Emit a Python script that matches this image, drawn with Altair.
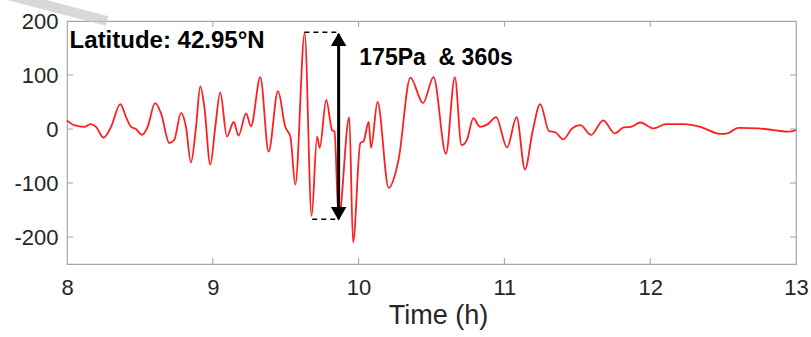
import altair as alt
import pandas as pd

# ---- data ----
time_h = [8.000, 8.050, 8.119, 8.160, 8.199, 8.251, 8.302, 8.366, 8.405, 8.439,
          8.473, 8.514, 8.553, 8.604, 8.645, 8.702, 8.736, 8.782, 8.816, 8.850,
          8.885, 8.914, 8.942, 8.983, 9.017, 9.051, 9.097, 9.143, 9.177, 9.228,
          9.262, 9.326, 9.383, 9.447, 9.497, 9.532, 9.566, 9.630, 9.678, 9.715,
          9.733, 9.778, 9.818, 9.835, 9.863, 9.936, 9.962, 10.012, 10.034, 10.069,
          10.085, 10.130, 10.206, 10.274, 10.355, 10.442, 10.514, 10.599, 10.660, 10.706,
          10.743, 10.787, 10.833, 10.886, 10.943, 11.018, 11.084, 11.141, 11.193, 11.246,
          11.306, 11.349, 11.404, 11.464, 11.521, 11.594, 11.678, 11.757, 11.818, 11.868,
          11.932, 12.023, 12.109, 12.234, 12.344, 12.481, 12.529, 12.604, 12.741, 12.846,
          12.947, 13.000]
pressure_pa = [16, 7, 4, 9, 4, -16, 4, 46, 22, 4,
               0, -11, 4, 48, 29, -26, -20, 30, 4, -62,
               4, 79, 41, -66, 4, 68, -14, 13, -12, 29,
               5, 96, -42, 70, 4, -14, -103, 177, -161, -14,
               -35, 54, -2, -5, -167, 22, -210, -26, -23, 13,
               -35, 50, -109, -57, 95, 48, 96, -46, 96, -30,
               -20, 20, 4, 9, 22, -34, 22, -75, -5, 46,
               -4, -6, -19, 1, 7, -11, 16, -8, 3, 4,
               12, 1, 9, 9, 4, -9, -8, 2, 1, -2,
               -5, -2]

x_ticks = [8, 9, 10, 11, 12, 13]
y_ticks = [-200, -100, 0, 100, 200]
x_inner_ticks = [9, 10, 11, 12]
y_inner_ticks = [-200, -100, 0, 100]

lat_label = ["Latitude: 42.95°N"]
lat_pos = [(8.018, 150)]
amp_label = ["175Pa\u00a0 & 360s"]
amp_pos = [(10.005, 118)]
arrow_t = [9.863]
arrow_top = [176]
arrow_bottom = [-166]
arrow_head_top = [166]
arrow_head_bottom = [-157]
dash_top = [(9.628, 9.863, 179)]
dash_bottom = [(9.682, 9.863, -167)]

W, H = 729, 243
xs = alt.Scale(domain=[8, 13], nice=False, zero=False)
ys = alt.Scale(domain=[-250, 200], nice=False, zero=False)

df = pd.DataFrame({"t": time_h, "p": pressure_pa})

line = alt.Chart(df).mark_line(color="#ff1f1f", strokeWidth=1.8, interpolate="monotone").encode(
    x=alt.X("t:Q", scale=xs,
            axis=alt.Axis(values=x_ticks, title="Time (h)", labelExpr="toString(datum.value)",
                          domain=False, ticks=False,
                          grid=False, labelFont="Liberation Sans", labelFontSize=22,
                          labelColor="#262626", labelPadding=13, labelFlush=False,
                          titleFont="Liberation Sans", titleFontSize=27, titleFontWeight="normal",
                          titleColor="#262626", titlePadding=4, titleX=371)),
    y=alt.Y("p:Q", scale=ys,
            axis=alt.Axis(values=y_ticks, title=None, labelExpr="toString(datum.value)",
                          domain=False, ticks=False, grid=False,
                          labelFont="Liberation Sans", labelFontSize=22, labelColor="#262626",
                          labelPadding=9)),
)

# inward ticks (MATLAB box style)
xt = pd.DataFrame({"t": x_inner_ticks})
yt = pd.DataFrame({"p": y_inner_ticks})
tick_col = "#a0a0a0"
xb = alt.Chart(xt).mark_rule(color=tick_col, strokeWidth=1).encode(
    x=alt.X("t:Q", scale=xs), y=alt.value(H), y2=alt.value(H - 6))
xtop = alt.Chart(xt).mark_rule(color=tick_col, strokeWidth=1).encode(
    x=alt.X("t:Q", scale=xs), y=alt.value(0), y2=alt.value(6))
yl = alt.Chart(yt).mark_rule(color=tick_col, strokeWidth=1).encode(
    y=alt.Y("p:Q", scale=ys), x=alt.value(0), x2=alt.value(6))
yr = alt.Chart(yt).mark_rule(color=tick_col, strokeWidth=1).encode(
    y=alt.Y("p:Q", scale=ys), x=alt.value(W), x2=alt.value(W - 6))

# annotations
lat_df = pd.DataFrame({"label": lat_label, "t": [p[0] for p in lat_pos], "p": [p[1] for p in lat_pos]})
lat = alt.Chart(lat_df).mark_text(align="left", baseline="alphabetic", font="Liberation Sans",
                                  fontSize=24, fontWeight="bold", color="#000000").encode(
    x=alt.X("t:Q", scale=xs), y=alt.Y("p:Q", scale=ys), text="label:N")

amp_df = pd.DataFrame({"label": amp_label, "t": [p[0] for p in amp_pos], "p": [p[1] for p in amp_pos]})
amp = alt.Chart(amp_df).mark_text(align="left", baseline="alphabetic", font="Liberation Sans",
                                  fontSize=23, fontWeight="bold", color="#000000").encode(
    x=alt.X("t:Q", scale=xs), y=alt.Y("p:Q", scale=ys), text="label:N")

shaft_df = pd.DataFrame({"t": arrow_t, "p": arrow_top, "p2": arrow_bottom})
shaft = alt.Chart(shaft_df).mark_rule(color="black", strokeWidth=3).encode(
    x=alt.X("t:Q", scale=xs), y=alt.Y("p:Q", scale=ys), y2="p2:Q")

head_up = alt.Chart(pd.DataFrame({"t": arrow_t, "p": arrow_head_top})).mark_point(
    shape="triangle-up", size=240, filled=True, color="black", opacity=1).encode(
    x=alt.X("t:Q", scale=xs), y=alt.Y("p:Q", scale=ys))
head_down = alt.Chart(pd.DataFrame({"t": arrow_t, "p": arrow_head_bottom})).mark_point(
    shape="triangle-down", size=240, filled=True, color="black", opacity=1).encode(
    x=alt.X("t:Q", scale=xs), y=alt.Y("p:Q", scale=ys))

dash_df = pd.DataFrame({"t1": [d[0] for d in dash_top + dash_bottom],
                        "t2": [d[1] for d in dash_top + dash_bottom],
                        "p": [d[2] for d in dash_top + dash_bottom]})
dashes = alt.Chart(dash_df).mark_rule(color="black", strokeWidth=1.5, strokeDash=[5, 4]).encode(
    x=alt.X("t1:Q", scale=xs), x2="t2:Q", y=alt.Y("p:Q", scale=ys))

# faint gray stroke at top-left (cropping artifact in the reference)
smear = alt.Chart(pd.DataFrame({"a": [0]})).mark_rule(
    color="#c8c8c8", strokeWidth=10, opacity=0.7).encode(
    x=alt.value(-67), x2=alt.value(40), y=alt.value(-28), y2=alt.value(0))

chart = alt.layer(smear, line, xb, xtop, yl, yr, dashes, shaft, head_up, head_down, lat, amp).properties(
    width=W, height=H,
    autosize=alt.AutoSizeParams(type="none"),
    padding={"left": 67, "top": 21, "right": 15, "bottom": 73},
    background="white",
).configure_view(stroke="#a6a6a6", strokeWidth=1.2)

chart.save("out.html", embed_options={"renderer": "svg", "actions": False})
